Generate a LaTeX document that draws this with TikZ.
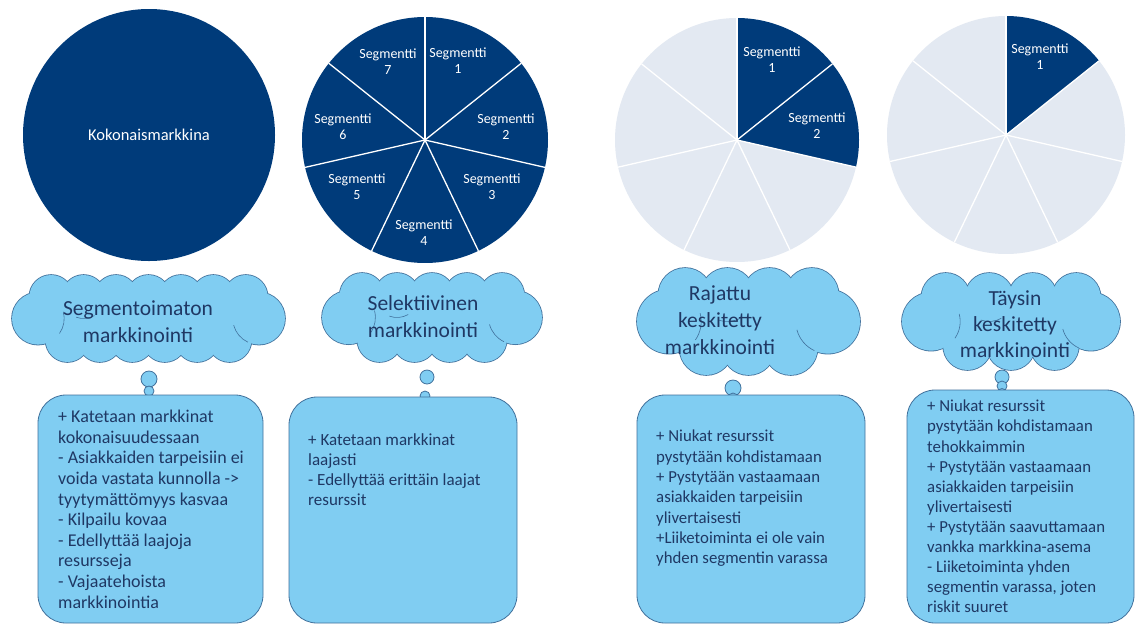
\documentclass[tikz,border=0pt]{standalone}
\usepackage{fontspec}
\setmainfont{Carlito}
\definecolor{navy}{RGB}{0,59,122}
\definecolor{pale}{RGB}{227,233,242}
\definecolor{sky}{RGB}{128,205,242}
\definecolor{edge}{RGB}{65,113,156}
\definecolor{ink}{RGB}{31,56,100}
\newcommand\puffs[5]{%
  \pgfmathsetmacro\cR{(#4-#2)/4}%
  \pgfmathsetmacro\cS{(#4-#2)*0.3}%
  \pgfmathsetlengthmacro\cRd{\cR*1pt}%
  \pgfmathsetlengthmacro\cSd{\cS*1pt}%
  \pgfmathsetmacro\cM{(#2+#4)/2}%
  \pgfmathsetmacro\cXa{#1+\cS+0.6*\cR}%
  \pgfmathsetmacro\cXb{#3-\cS-0.6*\cR}%
  \pgfmathtruncatemacro\cN{round((\cXb-\cXa)/(1.6*\cR))}%
  \pgfmathsetmacro\cD{(\cXb-\cXa)/\cN}%
  \pgfmathtruncatemacro\cNb{\cN-1}%
  \path[#5] ({#1+\cS},\cM) circle[radius=\cSd] ({#3-\cS},\cM) circle[radius=\cSd];
  \foreach \j in {0,...,\cN}{\path[#5] ({\cXa+\j*\cD},{#2+\cR}) circle[radius=\cRd];}
  \foreach \j in {0,...,\cNb}{\path[#5] ({\cXa+(\j+0.5)*\cD},{#4-\cR}) circle[radius=\cRd];}
}
\newcommand\thoughtcloud[4]{%
  \puffs{#1}{#2}{#3}{#4}{draw=edge, fill=sky, line width=1.6pt}%
  \puffs{#1}{#2}{#3}{#4}{fill=sky}%
  \fill[sky] ({#1+\cS},{#2+\cR}) rectangle ({#3-\cS},{#4-\cR});
  \draw[crease] ({#1+\cS},\cM) ++(15:\cSd) arc[start angle=15, end angle=-35, radius=\cSd];
  \draw[crease] ({#3-\cS},\cM) ++(195:\cSd) arc[start angle=195, end angle=245, radius=\cSd];
  \draw[crease] ({\cXa+\cD},{#2+\cR}) ++(-60:\cRd) arc[start angle=-60, end angle=-110, radius=\cRd];
}
\begin{document}
\begin{tikzpicture}[x=1pt,y=-1pt,
  seglbl/.style={text=white, align=center, font=\fontsize{14}{16}\selectfont, inner sep=0},
  sepline/.style={white, line width=1.3pt},
  ctext/.style={text=ink, align=center, font=\fontsize{21.5}{27}\selectfont, inner sep=0},
  dot/.style={circle, draw=edge, fill=sky, line width=0.8pt, inner sep=0},
  infobox/.style={draw=edge, fill=sky, rounded corners=28pt, line width=0.8pt, inner sep=0},
  btext/.style={text=ink, align=left, anchor=north west, inner sep=0},
  crease/.style={edge, line width=0.6pt},
]
\fill[white] (0,0) rectangle (1135,625);
\useasboundingbox (0,0) rectangle (1135,625);

% total market circle
\node[circle, fill=navy, minimum size=252pt, inner sep=0, text=white,
      font=\fontsize{16.5}{20}\selectfont] (tot) at (149,135) {Kokonaismarkkina};

% pie 2 : all segments
\coordinate (p2) at (425,140);
\foreach \k in {0,...,6}{
  \pgfmathsetmacro\a{90-\k*360/7}
  \pgfmathsetmacro\b{90-(\k+1)*360/7}
  \fill[navy] (p2) -- ++(\a:123pt) arc[start angle=\a, end angle=\b, radius=123pt] -- cycle;
}
\foreach \k in {0,...,6}{
  \pgfmathsetmacro\a{90-\k*360/7}
  \draw[sepline] (p2) -- ++(\a:123pt);
}
\node[seglbl] (p2s1) at (458,61) {Segmentti\\1};
\node[seglbl] (p2s2) at (506,127) {Segmentti\\2};
\node[seglbl] (p2s3) at (492,187) {Segmentti\\3};
\node[seglbl] (p2s4) at (424,233) {Segmentti\\4};
\node[seglbl] (p2s5) at (357,187) {Segmentti\\5};
\node[seglbl] (p2s6) at (343,127) {Segmentti\\6};
\node[seglbl] (p2s7) at (388,62) {Segmentti\\7};

% pie 3 : two segments
\coordinate (p3) at (737,140);
\foreach \k/\c in {0/navy,1/navy,2/pale,3/pale,4/pale,5/pale,6/pale}{
  \pgfmathsetmacro\a{90-\k*360/7}
  \pgfmathsetmacro\b{90-(\k+1)*360/7}
  \fill[\c] (p3) -- ++(\a:122pt) arc[start angle=\a, end angle=\b, radius=122pt] -- cycle;
}
\foreach \k in {0,...,6}{
  \pgfmathsetmacro\a{90-\k*360/7}
  \draw[sepline] (p3) -- ++(\a:122pt);
}
\node[seglbl] (p3s1) at (772,60) {Segmentti\\1};
\node[seglbl] (p3s2) at (817,126) {Segmentti\\2};

% pie 4 : one segment
\coordinate (p4) at (1006,135);
\foreach \k/\c in {0/navy,1/pale,2/pale,3/pale,4/pale,5/pale,6/pale}{
  \pgfmathsetmacro\a{90-\k*360/7}
  \pgfmathsetmacro\b{90-(\k+1)*360/7}
  \fill[\c] (p4) -- ++(\a:119pt) arc[start angle=\a, end angle=\b, radius=119pt] -- cycle;
}
\foreach \k in {0,...,6}{
  \pgfmathsetmacro\a{90-\k*360/7}
  \draw[sepline] (p4) -- ++(\a:119pt);
}
\node[seglbl] (p4s1) at (1040,57) {Segmentti\\1};

% clouds
\thoughtcloud{12}{275}{285}{362}
\thoughtcloud{322}{273}{542}{362}
\thoughtcloud{637}{268}{860}{375}
\thoughtcloud{902}{273}{1120}{370}

% thought dots
\node[dot, minimum size=16pt] (d1a) at (149,379) {};
\node[dot, minimum size=10pt] (d1b) at (149,391) {};
\node[dot, minimum size=14pt] (d2a) at (427,377) {};
\node[dot, minimum size=10pt] (d2b) at (425,396) {};
\node[dot, minimum size=16pt] (d3a) at (733,388) {};
\node[dot, minimum size=10pt] (d3b) at (733,398) {};
\node[dot, minimum size=14pt] (d4a) at (1002,377) {};
\node[dot, minimum size=10pt] (d4b) at (1002,386) {};
\node[dot, minimum size=7pt] (d4c) at (1002,392) {};

% boxes
\node[infobox, minimum width=225pt, minimum height=228pt] (b1) at (150.5,509) {};
\node[infobox, minimum width=228pt, minimum height=226pt] (b2) at (403,510) {};
\node[infobox, minimum width=228pt, minimum height=228pt] (b3) at (751,509) {};
\node[infobox, minimum width=227pt, minimum height=233pt] (b4) at (1020.5,506.5) {};

% cloud texts
\node[ctext] (t1) at (138,321.5) {Segmentoimaton\\markkinointi};
\node[ctext] (t2) at (423,316.5) {Selektiivinen\\markkinointi};
\node[ctext] (t3) at (720,320.5) {Rajattu\\keskitetty\\markkinointi};
\node[ctext, font=\fontsize{21.5}{26}\selectfont] (t4) at (1015,324) {Täysin\\keskitetty\\markkinointi};

% box texts
\node[btext, font=\fontsize{18}{20.6}\selectfont] (bt1) at (58,410) {+ Katetaan markkinat\\kokonaisuudessaan\\- Asiakkaiden tarpeisiin ei\\voida vastata kunnolla ->\\tyytymättömyys kasvaa\\- Kilpailu kovaa\\- Edellyttää laajoja\\resursseja\\- Vajaatehoista\\markkinointia};
\node[btext, font=\fontsize{17}{20}\selectfont] (bt2) at (308,433) {+ Katetaan markkinat\\laajasti\\- Edellyttää erittäin laajat\\resurssit};
\node[btext, font=\fontsize{16.8}{20.3}\selectfont] (bt3) at (656,430) {+ Niukat resurssit\\pystytään kohdistamaan\\+ Pystytään vastaamaan\\asiakkaiden tarpeisiin\\ylivertaisesti\\+Liiketoiminta ei ole vain\\yhden segmentin varassa};
\node[btext, font=\fontsize{16.8}{20.1}\selectfont] (bt4) at (927,400) {+ Niukat resurssit\\pystytään kohdistamaan\\tehokkaimmin\\+ Pystytään vastaamaan\\asiakkaiden tarpeisiin\\ylivertaisesti\\+ Pystytään saavuttamaan\\vankka markkina-asema\\- Liiketoiminta yhden\\segmentin varassa, joten\\riskit suuret};
\end{tikzpicture}
\end{document}
